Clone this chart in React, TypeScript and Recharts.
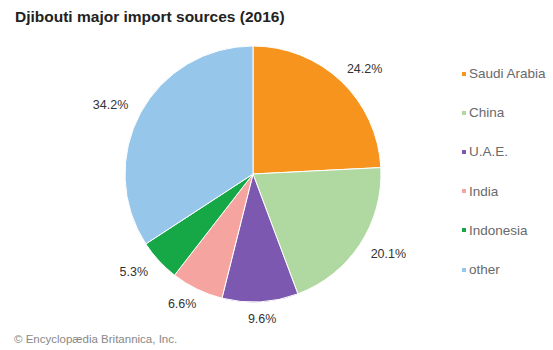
import React from "react";
import { PieChart, Pie, Cell, Legend } from "recharts";

const countries = ["Saudi Arabia", "China", "U.A.E.", "India", "Indonesia", "other"];
const shares = [24.2, 20.1, 9.6, 6.6, 5.3, 34.2];
const colors = ["#f7941e", "#b0d9a2", "#7c58b1", "#f5a4a0", "#16a847", "#96c6ea"];

const data = countries.map((name, i) => ({ name, value: shares[i] }));

const RAD = Math.PI / 180;
const FONT = "'Liberation Sans', Arial, sans-serif";

const renderLabel = (props: any) => {
  const { cx, cy, midAngle, outerRadius, value } = props;
  const c = Math.cos(-midAngle * RAD);
  const s = Math.sin(-midAngle * RAD);
  const x = cx + (outerRadius + 34) * c;
  const y = cy + (outerRadius + 17) * s;
  return (
    <text
      x={x}
      y={y}
      textAnchor="middle"
      dominantBaseline="central"
      fontFamily={FONT}
      fontSize={12.5}
      fill="#333"
    >
      {value.toFixed(1)}%
    </text>
  );
};

const renderLegend = () => {
  return (
    <div>
      {countries.map((name, i) => (
        <div
          key={name}
          style={{
            display: "flex",
            alignItems: "center",
            height: 39.2,
            fontFamily: FONT,
            fontSize: 13.5,
            color: "#6a6a6a",
            whiteSpace: "nowrap",
          }}
        >
          <span
            style={{
              display: "inline-block",
              width: 4,
              height: 4,
              background: colors[i],
              marginRight: 3,
            }}
          />
          {name}
        </div>
      ))}
    </div>
  );
};

export default function App() {
  return (
    <div style={{ position: "absolute", left: 0, top: 0, width: 553, height: 350, background: "#fff" }}>
      <div
        style={{
          position: "absolute",
          left: 15,
          top: 8,
          fontFamily: FONT,
          fontWeight: "bold",
          fontSize: 15.5,
          color: "#222",
          whiteSpace: "nowrap",
        }}
      >
        Djibouti major import sources (2016)
      </div>
      <PieChart width={553} height={350} margin={{ top: 0, right: 0, bottom: 0, left: 0 }}>
        <Pie
          data={data}
          dataKey="value"
          nameKey="name"
          cx={253}
          cy={174}
          outerRadius={128}
          startAngle={90}
          endAngle={-270}
          stroke="#fff"
          strokeWidth={1}
          label={renderLabel}
          labelLine={false}
          isAnimationActive={false}
        >
          {data.map((d, i) => (
            <Cell key={d.name} fill={colors[i]} />
          ))}
        </Pie>
        <Legend
          layout="vertical"
          align="right"
          verticalAlign="top"
          content={renderLegend}
          wrapperStyle={{ position: "absolute", left: 462, top: 54, width: 91 }}
        />
      </PieChart>
      <div
        style={{
          position: "absolute",
          left: 14,
          top: 333,
          fontFamily: FONT,
          fontSize: 11.5,
          color: "#888",
          whiteSpace: "nowrap",
        }}
      >
        © Encyclopædia Britannica, Inc.
      </div>
    </div>
  );
}
